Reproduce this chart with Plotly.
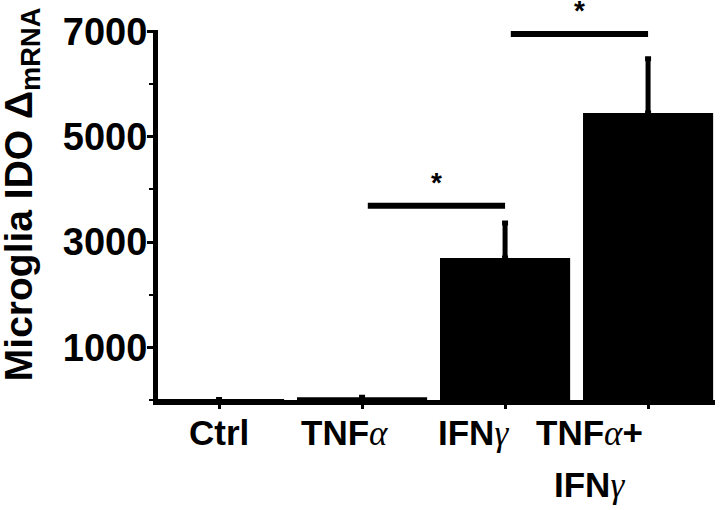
import plotly.graph_objects as go

# ---- data ----
categories = ["Ctrl", "TNFα", "IFNγ", "TNFα+IFNγ"]
values = [10, 50, 2700, 5455]
errors_up = [0, 0, 665, 1027]
y_ticks = [1000, 3000, 5000, 7000]
comparisons = [(1, 2), (2, 3)]
comparison_heights = [3690, 6955]
comparison_marks = ["*", "*"]

GREEK = '<span style="font-family:\'Liberation Serif\';font-style:italic;font-weight:normal">{}</span>'
alpha = GREEK.format("α")
gamma = GREEK.format("γ")
tick_labels = ["Ctrl", "TNF" + alpha, "IFN" + gamma, "TNF" + alpha + "+<br>IFN" + gamma]

# layout-only helpers
label_offsets = [0.0, -0.12, -0.22, -0.41]
FONT = "Liberation Sans, Arial, sans-serif"

x_idx = list(range(len(categories)))

fig = go.Figure()
fig.add_trace(go.Bar(
    x=x_idx, y=values, width=0.91,
    marker=dict(color="black", line=dict(width=0)),
    error_y=dict(type="data", symmetric=False, array=errors_up,
                 arrayminus=[0] * len(values), color="black",
                 thickness=5, width=3),
    hovertext=categories,
))

shapes = []
annotations = []
for (a, b), h, m in zip(comparisons, comparison_heights, comparison_marks):
    x0, x1 = a + 0.04, b
    shapes.append(dict(type="line", xref="x", yref="y", x0=x0, x1=x1, y0=h, y1=h,
                       line=dict(color="black", width=6)))
    annotations.append(dict(xref="x", yref="y", x=(x0 + x1) / 2, y=h, text=m,
                            showarrow=False, yanchor="bottom", yshift=6,
                            font=dict(family=FONT, size=28, color="black", weight="bold")))

for i, (lab, off) in enumerate(zip(tick_labels, label_offsets)):
    for k, line in enumerate(lab.split("<br>")):
        annotations.append(dict(xref="x", yref="paper", x=i + off, y=0, text=line,
                                showarrow=False, yanchor="top", xanchor="center",
                                yshift=-11 - 52 * k,
                                font=dict(family=FONT, size=35, color="black", weight="bold")))

annotations.append(dict(xref="paper", yref="paper", x=-0.245, y=0.555,
                        text="Microglia IDO Δ<sub>mRNA</sub>", textangle=-90,
                        showarrow=False, xanchor="center", yanchor="middle",
                        font=dict(family=FONT, size=39, color="black", weight="bold")))

fig.update_layout(
    width=720, height=510,
    margin=dict(l=158, r=5, t=30, b=110),
    paper_bgcolor="white", plot_bgcolor="white",
    showlegend=False,
    shapes=shapes, annotations=annotations,
    xaxis=dict(range=[-0.427, 3.468], tickvals=x_idx, showticklabels=False,
               ticks="outside", ticklen=4, tickwidth=3, tickcolor="black",
               showline=True, linewidth=5, linecolor="black",
               showgrid=False, zeroline=False),
    yaxis=dict(range=[0, 7030], tickvals=y_ticks, ticks="outside", ticklen=6,
               tickwidth=3, tickcolor="black", showline=True, linewidth=5,
               linecolor="black", showgrid=False, zeroline=False,
               ticklabelstandoff=-8,
               tickfont=dict(family=FONT, size=38, color="black", weight="bold"),
               minor=dict(tickmode="linear", tick0=0, dtick=1000, ticks="outside",
                          ticklen=4, tickwidth=2, tickcolor="black")),
)

fig.write_html("out.html", config={"displayModeBar": False},
               post_script="document.body.style.margin='0';")
